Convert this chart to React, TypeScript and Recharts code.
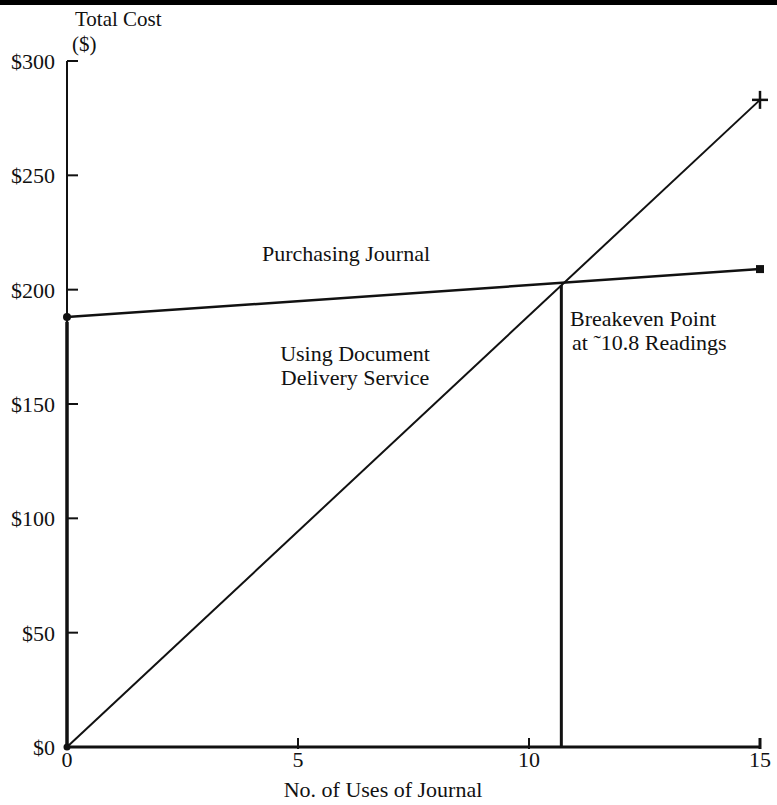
import React from 'react';
import { LineChart, Line, XAxis, YAxis, ReferenceLine } from 'recharts';

const uses = [0, 15];
const documentDelivery = [0, 283];
const purchasingJournal = [188, 209];
const xTicks = [0, 5, 10, 15];
const yTicks = [0, 50, 100, 150, 200, 250, 300];
const yTickLabels = ['$0', '$50', '$100', '$150', '$200', '$250', '$300'];
const breakevenUses = 10.7;
const breakevenCost = 202;

const data = uses.map((u, i) => ({ uses: u, doc: documentDelivery[i], purchase: purchasingJournal[i] }));

const FONT = '"Liberation Serif", "DejaVu Serif", serif';
const FS = 22;

const YTick = (props: any) => {
  const { x, y, payload } = props;
  const idx = yTicks.indexOf(payload.value);
  return (
    <g>
      <text x={x - 3} y={y} dy={8} textAnchor="end" fontFamily={FONT} fontSize={FS} fill="#111">
        {yTickLabels[idx]}
      </text>
      {payload.value !== 0 && (
        <line x1={x + 9} x2={x + 20} y1={y} y2={y} stroke="#111" strokeWidth={2} />
      )}
    </g>
  );
};

const XTick = (props: any) => {
  const { x, y, payload } = props;
  return (
    <g>
      <text x={x} y={y} dy={16} textAnchor="middle" fontFamily={FONT} fontSize={FS} fill="#111">
        {payload.value}
      </text>
      {payload.value !== 0 && (
        <line x1={x} x2={x} y1={y - 2} y2={y - 13} stroke="#111" strokeWidth={payload.value === 15 ? 3 : 2} />
      )}
    </g>
  );
};

const PurchaseDot = (props: any) => {
  const { cx, cy, index } = props;
  if (index === 0) return <circle key={index} cx={cx} cy={cy} r={4} fill="#111" />;
  return <rect key={index} x={cx - 4} y={cy - 4} width={8} height={8} fill="#111" />;
};

const DocDot = (props: any) => {
  const { cx, cy, index } = props;
  if (index === 0) return <circle key={index} cx={cx} cy={cy} r={3.5} fill="#111" />;
  return (
    <g key={index}>
      <line x1={cx - 8} x2={cx + 8} y1={cy} y2={cy} stroke="#111" strokeWidth={2.5} />
      <line x1={cx} x2={cx} y1={cy - 9} y2={cy + 9} stroke="#111" strokeWidth={2.5} />
    </g>
  );
};

export default function App() {
  return (
    <div style={{ position: 'absolute', left: 0, top: 0, width: 777, height: 805, background: '#fff' }}>
      <div style={{ position: 'absolute', left: 0, top: 0, width: 777, height: 5, background: '#000' }} />
      <LineChart
        width={777}
        height={805}
        data={data}
        margin={{ top: 61, right: 17, bottom: 28, left: 7 }}
      >
        <XAxis
          dataKey="uses"
          type="number"
          domain={[0, 15]}
          ticks={xTicks}
          tickLine={false}
          tickSize={0}
          tickMargin={4}
          height={30}
          axisLine={{ stroke: '#111', strokeWidth: 3 }}
          tick={<XTick />}
          interval={0}
        />
        <YAxis
          type="number"
          domain={[0, 300]}
          ticks={yTicks}
          width={60}
          tickLine={false}
          tickSize={0}
          tickMargin={9}
          axisLine={{ stroke: '#111', strokeWidth: 2 }}
          tick={<YTick />}
          interval={0}
        />
        <ReferenceLine
          segment={[{ x: 0, y: 0 }, { x: 0, y: 186 }]}
          stroke="#111"
          strokeWidth={3.5}
          ifOverflow="visible"
        />
        <ReferenceLine
          segment={[{ x: breakevenUses, y: 0 }, { x: breakevenUses, y: breakevenCost }]}
          stroke="#111"
          strokeWidth={3}
        />
        <Line
          dataKey="purchase"
          stroke="#111"
          strokeWidth={2.5}
          dot={<PurchaseDot />}
          isAnimationActive={false}
        />
        <Line
          dataKey="doc"
          stroke="#111"
          strokeWidth={2}
          dot={<DocDot />}
          isAnimationActive={false}
        />
      </LineChart>
      <svg
        width={777}
        height={805}
        style={{ position: 'absolute', left: 0, top: 0, pointerEvents: 'none' }}
        fontFamily={FONT}
        fontSize={FS}
        fill="#111"
      >
        <text x={75} y={26} fontSize={21}>Total Cost</text>
        <text x={72} y={51} fontSize={21}>($)</text>
        <text x={262} y={261}>Purchasing Journal</text>
        <text x={355} y={361} textAnchor="middle">Using Document</text>
        <text x={355} y={385} textAnchor="middle">Delivery Service</text>
        <text x={570} y={326}>Breakeven Point</text>
        <text x={572} y={350}>at ˜10.8 Readings</text>
        <text x={383} y={797} textAnchor="middle">No. of Uses of Journal</text>
      </svg>
    </div>
  );
}
